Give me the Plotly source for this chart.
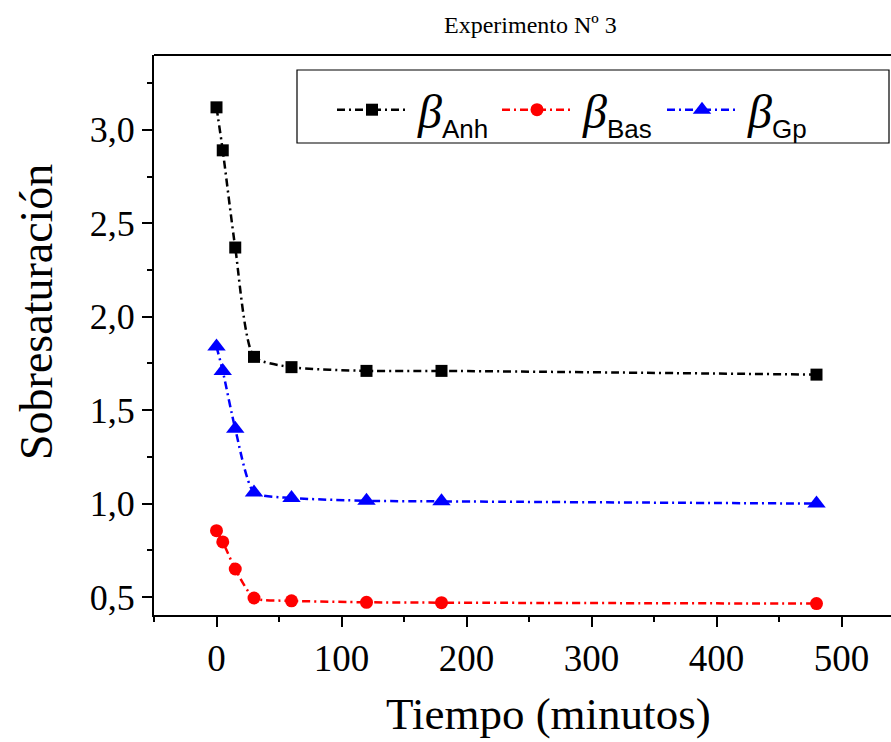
import plotly.graph_objects as go

tiempo = [0, 5, 15, 30, 60, 120, 180, 480]
beta_anh = [3.12, 2.89, 2.37, 1.785, 1.73, 1.71, 1.71, 1.69]
beta_bas = [0.855, 0.795, 0.65, 0.495, 0.48, 0.472, 0.47, 0.465]
beta_gp = [1.84, 1.71, 1.40, 1.06, 1.03, 1.015, 1.012, 1.0]

series = [
    ("Anh", beta_anh, "black", "square", 12),
    ("Bas", beta_bas, "red", "circle", 13),
    ("Gp", beta_gp, "blue", "triangle-up", 16),
]

SERIF = "Liberation Serif"
fig = go.Figure()
for name, vals, col, sym, sz in series:
    fig.add_trace(go.Scatter(
        x=tiempo, y=vals, mode="lines+markers",
        name=("<span style='font-size:24px'>&nbsp;</span><i>β</i>"
              "<sub><span style='font-family:Liberation Sans;font-size:26px'>"
              + name + "</span></sub>"),
        line=dict(color=col, width=2.5, dash="8px,4px,2px,4px", shape="spline", smoothing=0.6),
        marker=dict(symbol=sym, size=sz, color=col),
    ))

pw = 891 - 154
ph = 742 - 55 - 127

def px(x):
    return (x - 154) / pw

def py(y):
    return (615 - y) / ph

fig.update_layout(
    width=891, height=742,
    margin=dict(l=154, r=0, t=55, b=127),
    plot_bgcolor="white", paper_bgcolor="white",
    separators=",.",
    font=dict(family=SERIF, color="black"),
    showlegend=True,
    legend=dict(
        orientation="h", x=px(332), y=py(72), xanchor="left", yanchor="top",
        borderwidth=0, bgcolor="rgba(0,0,0,0)",
        font=dict(family=SERIF, size=48),
        itemwidth=70, entrywidth=80, tracegroupgap=0,
    ),
)
fig.add_shape(type="rect", xref="paper", yref="paper",
              x0=px(297), x1=px(889), y0=py(143), y1=py(70),
              line=dict(color="black", width=1.2), fillcolor="white", layer="above")
fig.add_annotation(text="Experimento Nº 3", x=px(530), y=py(25),
                   xref="paper", yref="paper", showarrow=False,
                   xanchor="center", yanchor="middle",
                   font=dict(size=24, family=SERIF))
fig.add_annotation(text="Tiempo (minutos)", x=px(548), y=py(714),
                   xref="paper", yref="paper", showarrow=False,
                   xanchor="center", yanchor="middle",
                   font=dict(size=45, family=SERIF))
fig.add_annotation(text="Sobresaturación", x=px(36), y=py(312),
                   xref="paper", yref="paper", showarrow=False, textangle=-90,
                   xanchor="center", yanchor="middle",
                   font=dict(size=46, family=SERIF))

fig.update_xaxes(
    range=[-50, 539.6], tickvals=[0, 100, 200, 300, 400, 500],
    ticks="outside", ticklen=10, tickwidth=2, tickcolor="black",
    showline=True, linecolor="black", linewidth=2, mirror=False,
    showgrid=False, zeroline=False,
    tickfont=dict(size=37, family=SERIF),
    minor=dict(tickvals=[-50, 50, 150, 250, 350, 450], ticks="outside", ticklen=5,
               tickwidth=2, tickcolor="black"),
)
fig.update_yaxes(
    range=[0.404, 3.4], tickvals=[0.5, 1.0, 1.5, 2.0, 2.5, 3.0], tickformat=".1f",
    ticks="outside", ticklen=10, tickwidth=2, tickcolor="black",
    showline=True, linecolor="black", linewidth=2, mirror=False,
    showgrid=False, zeroline=False,
    tickfont=dict(size=36, family=SERIF),
    minor=dict(tickvals=[0.75, 1.25, 1.75, 2.25, 2.75, 3.25], ticks="outside", ticklen=5,
               tickwidth=2, tickcolor="black"),
)
fig.add_shape(type="line", xref="paper", yref="paper", x0=0, x1=1, y0=1, y1=1,
              line=dict(color="black", width=2))

fig.write_html("out.html")
